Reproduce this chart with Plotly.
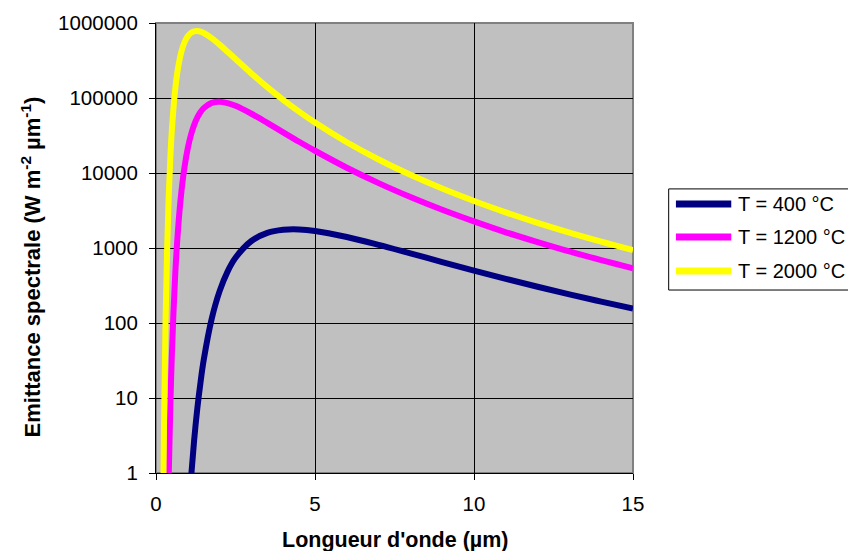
import plotly.graph_objects as go

# Wavelength (µm)
wavelength = [0.2, 0.25, 0.3, 0.35, 0.4, 0.45, 0.5, 0.6, 0.7, 0.8, 0.9, 1.0,
              1.1, 1.2, 1.3, 1.4, 1.5, 1.75, 2.0, 2.25, 2.5, 3.0, 3.5, 4.0,
              4.5, 5.0, 6.0, 7.0, 8.0, 9.0, 10.0, 11.0, 12.0, 13.0, 14.0, 15.0]

# Spectral emittance (W m-2 µm-1)
t400 = [None, None, None, None, None, None, None, None, None, None, None, 0.19,
        0.84, 2.75, 7.3, 16.2, 32, 113, 266, 485, 740, 1240, 1590, 1750,
        1770, 1690, 1400, 1100, 847, 650, 500, 388, 304, 241, 193, 156]
t1200 = [None, None, None, None, 0.91, 7.6, 39, 409, 1940, 5690, 12260, 21420,
         32330, 43870, 55000, 65000, 73300, 86200, 89200, 85600, 78600, 61700, 46600, 34800,
         26100, 19800, 11750, 7330, 4780, 3230, 2260, 1620, 1200, 900, 690, 537]
t2000 = [0.021, 3.9, 106, 995, 4900, 15800, 38000, 126000, 263000, 418000, 560000, 668000,
         738000, 774000, 780000, 765000, 735000, 629000, 515000, 414000, 331000, 212500, 139600, 94500,
         65800, 47000, 25700, 15140, 9470, 6210, 4240, 2990, 2165, 1607, 1217, 938]

series_names = ["T = 400 °C", "T = 1200 °C", "T = 2000 °C"]
series_colors = ["#000080", "#FF00FF", "#FFFF00"]

x_ticks = [0, 5, 10, 15]
y_tickvals = [1, 10, 100, 1000, 10000, 100000, 1000000]
y_ticktext = ["1", "10", "100", "1000", "10000", "100000", "1000000"]

FONT = "Liberation Sans, Arial, sans-serif"

fig = go.Figure()
for name, vals, col in zip(series_names, [t400, t1200, t2000], series_colors):
    fig.add_trace(go.Scatter(x=wavelength, y=vals, mode="lines", name=name,
                             line=dict(color=col, width=6, shape="spline", smoothing=1.0),
                             connectgaps=False, showlegend=False))

# custom legend (box, key lines, labels) placed in paper coordinates
shapes = [dict(type="rect", xref="paper", yref="paper", x0=0, x1=1, y0=0, y1=1,
               line=dict(color="#808080", width=2), layer="below"),
          dict(type="rect", xref="paper", yref="paper", x0=1.0748, x1=1.4705,
               y0=0.4066, y1=0.6313, line=dict(color="black", width=1),
               fillcolor="white", layer="above")]
annotations = []
row_y = [0.5979, 0.5245, 0.4488]
for name, col, yy in zip(series_names, series_colors, row_y):
    shapes.append(dict(type="line", xref="paper", yref="paper", x0=1.0900, x1=1.2060,
                       y0=yy, y1=yy, line=dict(color=col, width=7)))
    annotations.append(dict(text=name, xref="paper", yref="paper", x=1.2150, y=yy,
                            xanchor="left", yanchor="middle", showarrow=False,
                            font=dict(size=20)))

annotations.append(dict(text="<b>Emittance spectrale (W m<sup>-2</sup> µm<sup>-1</sup>)</b>",
                        xref="paper", yref="paper", x=-0.263, y=0.458, textangle=-90,
                        showarrow=False, xanchor="center", yanchor="middle",
                        font=dict(size=22)))
annotations.append(dict(text="<b>Longueur d'onde (µm)</b>",
                        xref="paper", yref="paper", x=0.502, y=-0.1498,
                        showarrow=False, xanchor="center", yanchor="middle",
                        font=dict(size=21.5)))

fig.update_layout(
    width=848, height=543,
    margin=dict(l=147.7, r=222.7, t=15.3, b=78.3, autoexpand=False),
    paper_bgcolor="white",
    plot_bgcolor="#C0C0C0",
    font=dict(family=FONT, size=20.5, color="black"),
    showlegend=False,
    xaxis=dict(range=[0, 15], tickvals=x_ticks, showgrid=True, gridcolor="black",
               gridwidth=1, showline=True, linecolor="black", linewidth=1,
               ticks="outside", ticklen=6, tickcolor="black", zeroline=False,
               ticklabelstandoff=6),
    yaxis=dict(type="log", range=[0, 6], tickvals=y_tickvals, ticktext=y_ticktext,
               showgrid=True, gridcolor="black", gridwidth=1, showline=True,
               linecolor="black", linewidth=1, ticks="outside", ticklen=6,
               tickcolor="black", zeroline=False, ticklabelstandoff=7),
    shapes=shapes,
    annotations=annotations,
)

fig.write_html("out.html")
